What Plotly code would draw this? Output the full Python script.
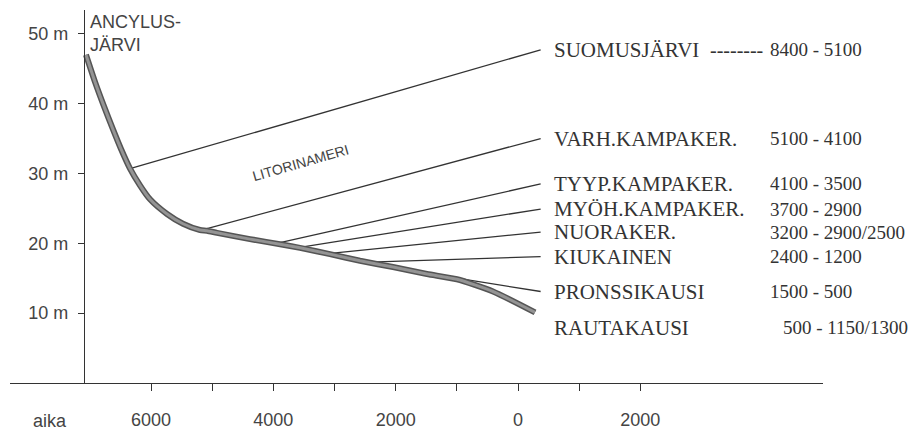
import plotly.graph_objects as go

# ---- data (years: positive = BC, negative = AD; heights in metres) ----
curve_year = [7063, 6915, 6768, 6621, 6490, 6343, 6180, 6016, 5738, 5477, 5199, 5085,
              4921, 4382, 3842, 3564, 3074, 2583, 2044, 1488, 998, 409, -278]
curve_height = [47.0, 43.1, 39.6, 36.3, 33.5, 30.7, 28.3, 26.3, 24.2, 22.8, 21.9, 21.8,
                21.5, 20.6, 19.8, 19.35, 18.45, 17.5, 16.6, 15.6, 14.85, 13.1, 10.1]

period_names = ["SUOMUSJÄRVI", "VARH.KAMPAKER.", "TYYP.KAMPAKER.", "MYÖH.KAMPAKER.",
                "NUORAKER.", "KIUKAINEN", "PRONSSIKAUSI", "RAUTAKAUSI"]
period_dates = ["8400 - 5100", "5100 - 4100", "4100 - 3500", "3700 - 2900",
                "3200 - 2900/2500", "2400 - 1200", "1500 - 500", "500 - 1150/1300"]
branch_start_year = [6343, 5085, 3891, 3515, 3025, 2305, 998]
branch_start_height = [30.7, 22.1, 20.1, 19.5, 18.6, 17.35, 15.0]
branch_end_height = [47.7, 35.0, 28.5, 24.9, 21.6, 18.1, 13.1]
branch_end_year = -370

x_tickvals = [6000, 5000, 4000, 3000, 2000, 1000, 0, -1000, -2000]
x_ticktext = ["6000", "", "4000", "", "2000", "", "0", "", "2000"]
y_tickvals = [10, 20, 30, 40, 50]
y_ticktext = ["10 m", "20 m", "30 m", "40 m", "50 m"]

# ---- figure ----
fig = go.Figure()

# branch lines
bx, by = [], []
for ys, hs, he in zip(branch_start_year, branch_start_height, branch_end_height):
    bx += [ys, branch_end_year, None]
    by += [hs, he, None]
fig.add_trace(go.Scatter(x=bx, y=by, mode="lines", line=dict(color="#333333", width=1.3),
                         hoverinfo="skip", showlegend=False))

# shoreline curve (dark edge + lighter core)
fig.add_trace(go.Scatter(x=curve_year, y=curve_height, mode="lines",
                         line=dict(color="#555555", width=6, shape="spline", smoothing=0.6),
                         showlegend=False))
fig.add_trace(go.Scatter(x=curve_year, y=curve_height, mode="lines",
                         line=dict(color="#949494", width=3, shape="spline", smoothing=0.6),
                         showlegend=False))

serif = "Liberation Serif, Times New Roman, serif"
sans = "Liberation Sans, Arial, sans-serif"
txt = "#333333"

label_x = -555
date_x = [-4087] * 7 + [-4300]
label_h = branch_end_height + [7.9]

ann = []
for name, date, h, dx in zip(period_names, period_dates, label_h, date_x):
    ann.append(dict(x=label_x, y=h, xref="x", yref="y", text=name, showarrow=False,
                    xanchor="left", yanchor="middle", font=dict(family=serif, size=21, color=txt)))
    ann.append(dict(x=dx, y=h, xref="x", yref="y", text=date, showarrow=False,
                    xanchor="left", yanchor="middle", font=dict(family=serif, size=19, color=txt)))
ann.append(dict(x=-3106, y=label_h[0], xref="x", yref="y", text="--------", showarrow=False,
                xanchor="left", yanchor="middle", font=dict(family=serif, size=20, color=txt)))
ann.append(dict(x=3564, y=31.5, xref="x", yref="y", text="LITORINAMERI", showarrow=False,
                textangle=-16, font=dict(family=sans, size=14, color="#444444")))
ann.append(dict(x=7030, y=50.0, xref="x", yref="y", text="ANCYLUS-<br>JÄRVI", showarrow=False,
                xanchor="left", yanchor="middle", align="left",
                font=dict(family=sans, size=18, color="#444444")))
ann.append(dict(x=7651, y=-0.102, xref="x", yref="paper", text="aika", showarrow=False,
                xanchor="center", yanchor="middle", font=dict(family=sans, size=18, color="#444444")))

# page body has an 8px margin, so the figure is sized/margined to land the plot
# area at the same window pixels as the reference
fig.update_layout(
    width=908, height=422,
    margin=dict(l=2, r=93, t=2, b=47),
    paper_bgcolor="white", plot_bgcolor="white",
    showlegend=False,
    annotations=ann,
    xaxis=dict(range=[8305, -4986], tickvals=x_tickvals, ticktext=x_ticktext,
               ticks="outside", ticklen=7, tickwidth=1.3, tickcolor="#333333",
               showline=True, linecolor="#333333", linewidth=1.3,
               showgrid=False, zeroline=False, ticklabelstandoff=13, automargin=False,
               tickfont=dict(family=sans, size=18, color="#444444")),
    yaxis=dict(range=[0, 53.4], anchor="free", position=0.091,
               tickvals=y_tickvals, ticktext=y_ticktext,
               ticks="outside", ticklen=6, tickwidth=1.3, tickcolor="#333333",
               showline=True, linecolor="#333333", linewidth=1.3,
               showgrid=False, zeroline=False, ticklabelstandoff=6, automargin=False,
               tickfont=dict(family=sans, size=18, color="#444444")),
)

fig.write_html("out.html")
